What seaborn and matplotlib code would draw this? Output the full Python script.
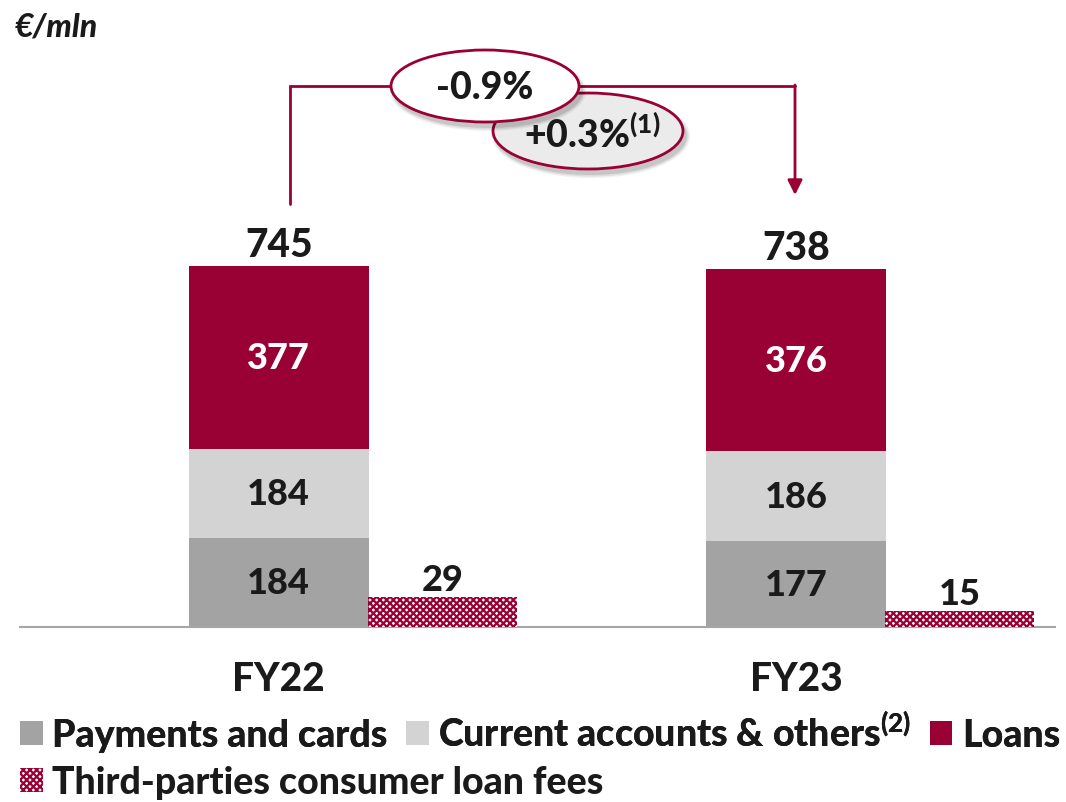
import matplotlib
matplotlib.use("Agg")
import matplotlib.pyplot as plt
from matplotlib.patches import Ellipse, Patch
import seaborn as sns
import pandas as pd

# ---------------- data ----------------
categories = ["FY22", "FY23"]
payments = [184, 177]
current_accounts = [184, 186]
loans = [377, 376]
totals = [745, 738]
third_party = [29, 15]
change_total = "-0.9%"
change_adj = "+0.3%"

series_names = ["Payments and cards", "Current accounts & others",
                "Loans", "Third-parties consumer loan fees"]

# ---------------- style ----------------
sns.set_theme(style="white")
plt.rcParams["font.family"] = ["Lato", "DejaVu Sans"]
WT = 900
plt.rcParams["font.weight"] = WT
plt.rcParams["mathtext.fontset"] = "custom"
plt.rcParams["mathtext.rm"] = "Lato:black"
plt.rcParams["mathtext.bf"] = "Lato:black"
plt.rcParams["mathtext.it"] = "Lato:black:italic"
plt.rcParams["hatch.linewidth"] = 1.6

RED = "#990033"
LIGHT = "#d3d3d3"
DARK = "#a3a3a3"
TXT = "#1a1a1a"
AXIS = "#a6a6a6"

W, H = 1066, 803
fig = plt.figure(figsize=(W / 100, H / 100), dpi=100)

left_px, right_px, bottom_px, top_px = 20, 1055, 628, 80
pos = [left_px / W, 1 - bottom_px / H, (right_px - left_px) / W, (bottom_px - top_px) / H]
ax = fig.add_axes(pos)

df = pd.DataFrame({"cat": categories, "pay": payments, "cur": current_accounts, "loan": loans})
df["cum_cur"] = df["pay"] + df["cur"]
df["cum_loan"] = df["cum_cur"] + df["loan"]

bw = 0.347
sns.barplot(data=df, x="cat", y="cum_loan", color=RED, saturation=1, width=bw, ax=ax)
sns.barplot(data=df, x="cat", y="cum_cur", color=LIGHT, saturation=1, width=bw, ax=ax)
sns.barplot(data=df, x="cat", y="pay", color=DARK, saturation=1, width=bw, ax=ax)
for p in ax.patches:
    p.set_linewidth(0)

ax.set_xlim(-0.5, 1.5)
ax.set_ylim(0, 1131)
ax.set_xlabel("")
ax.set_ylabel("")
ax.set_yticks([])
for s in ["left", "right", "top"]:
    ax.spines[s].set_visible(False)
ax.spines["bottom"].set_color(AXIS)
ax.spines["bottom"].set_linewidth(1.5)
ax.tick_params(axis="x", which="major", length=0, pad=24, labelsize=28, labelcolor=TXT)
for t in ax.get_xticklabels():
    t.set_fontweight(WT)
ax.set_xticks([-0.5, 0.5, 1.5], minor=True)
ax.tick_params(axis="x", which="minor", length=9, width=1.5, color=AXIS, direction="out")

# segment labels
for i in range(len(categories)):
    ax.text(i, df["pay"][i] / 2, str(payments[i]), ha="center", va="center",
            fontsize=26, fontweight=WT, color=TXT)
    ax.text(i, df["pay"][i] + current_accounts[i] / 2, str(current_accounts[i]), ha="center",
            va="center", fontsize=26, fontweight=WT, color=TXT)
    ax.text(i, df["cum_cur"][i] + loans[i] / 2, str(loans[i]), ha="center", va="center",
            fontsize=26, fontweight=WT, color="white")
    ax.annotate(str(totals[i]), xy=(i, df["cum_loan"][i]), xytext=(0, 7),
                textcoords="offset points", ha="center", va="baseline",
                fontsize=28, fontweight=WT, color=TXT)

# third-party bars on their own scale, offset to the right of the stacks
ax3 = fig.add_axes(pos)
ax3.patch.set_alpha(0)
sns.barplot(x=categories, y=third_party, color=RED, saturation=1, width=0.288, ax=ax3)
shift = 0.316
ax3.set_xlim(-0.5 - shift, 1.5 - shift)
ax3.set_ylim(0, 522)
for p in ax3.patches:
    p.set_facecolor("white")
    p.set_edgecolor(RED)
    p.set_hatch("xxxxx")
    p.set_linewidth(0)
for i in range(len(categories)):
    ax3.annotate(str(third_party[i]), xy=(i, third_party[i]), xytext=(0, 5),
                 textcoords="offset points", ha="center", va="baseline",
                 fontsize=26, fontweight=WT, color=TXT)
ax3.axis("off")

# overlay for the change bracket and bubbles (pixel coords)
ov = fig.add_axes([0, 0, 1, 1])
ov.set_xlim(0, W)
ov.set_ylim(H, 0)
ov.axis("off")
ov.patch.set_alpha(0)

ov.plot([290, 290, 795], [205, 87, 87], color=RED, lw=2, solid_joinstyle="miter")
ov.annotate("", xy=(795, 196), xytext=(795, 86),
            arrowprops=dict(arrowstyle="-|>", color=RED, lw=2, mutation_scale=22,
                            shrinkA=0, shrinkB=0))

for cx, cy, w, h, fc, z in [(588, 132, 190, 76, "#ebebeb", 3), (485, 87, 188, 72, "white", 5)]:
    for k, a in enumerate([0.06, 0.08, 0.10]):
        ov.add_patch(Ellipse((cx + 3, cy + 5), w + 8 - 3 * k, h + 8 - 3 * k,
                             facecolor="black", edgecolor="none", alpha=a, zorder=z))
    ov.add_patch(Ellipse((cx, cy), w, h, facecolor=fc, edgecolor=RED, lw=2, zorder=z + 0.5))

ov.text(485, 88, change_total, ha="center", va="center", fontsize=27,
        fontweight=WT, color=TXT, zorder=7)
ov.text(592, 134, change_adj + r"$^{\mathbf{(1)}}$", ha="center", va="center", fontsize=27,
        fontweight=WT, color=TXT, zorder=7)

fig.text(15 / W, 1 - 27 / H, "€/mln", ha="left", va="center", fontsize=23,
         fontweight=WT, style="italic", color=TXT)

# legend
h1 = [Patch(facecolor=DARK, edgecolor="none"),
      Patch(facecolor=LIGHT, edgecolor="none"),
      Patch(facecolor=RED, edgecolor="none")]
lab1 = [series_names[0], series_names[1] + r"$^{\mathbf{(2)}}$", series_names[2]]
leg1 = fig.legend(h1, lab1, loc="center left", bbox_to_anchor=(20 / W, 1 - 733 / H),
                  ncol=3, frameon=False, fontsize=27, handlelength=0.6, handleheight=0.6,
                  handletextpad=0.25, columnspacing=0.5, borderaxespad=0, borderpad=0)
for t in leg1.get_texts():
    t.set_color(TXT)
    t.set_fontweight(WT)
h2 = [Patch(facecolor="white", edgecolor=RED, hatch="xxxxx", lw=0)]
leg2 = fig.legend(h2, [series_names[3]], loc="center left", bbox_to_anchor=(20 / W, 1 - 783 / H),
                  frameon=False, fontsize=27, handlelength=0.6, handleheight=0.6,
                  handletextpad=0.25, borderaxespad=0, borderpad=0)
for t in leg2.get_texts():
    t.set_color(TXT)
    t.set_fontweight(WT)
fig.add_artist(leg1)

fig.savefig("out.png", dpi=100)
